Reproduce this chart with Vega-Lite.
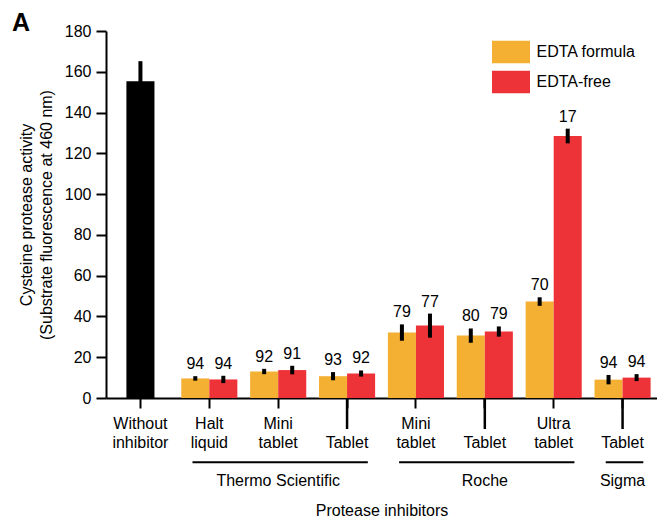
{
  "$schema": "https://vega.github.io/schema/vega-lite/v6.json",
  "width": 551,
  "height": 367,
  "autosize": {"type": "none"},
  "padding": {"left": 106, "top": 31, "right": 0, "bottom": 121},
  "background": "white",
  "title": {
    "text": "A",
    "anchor": "start",
    "frame": "group",
    "dx": -94,
    "dy": 33,
    "offset": 0,
    "baseline": "alphabetic",
    "fontSize": 25,
    "fontWeight": "bold",
    "color": "black"
  },
  "config": {
    "font": "Liberation Sans",
    "view": {"stroke": null},
    "axis": {
      "domainColor": "black",
      "domainWidth": 2,
      "tickColor": "black",
      "tickWidth": 2,
      "tickSize": 10,
      "labelColor": "black",
      "labelFontSize": 16,
      "titleColor": "black",
      "titleFontSize": 16,
      "titleFontWeight": "normal",
      "grid": false
    },
    "legend": {
      "orient": "none",
      "legendX": 386,
      "legendY": 9.5,
      "padding": 0,
      "symbolType": "M-1,-0.605H1V0.605H-1Z",
      "symbolSize": 1444,
      "symbolStrokeWidth": 0,
      "symbolOpacity": 1,
      "labelFontSize": 16,
      "labelColor": "black",
      "labelOffset": 6.5,
      "clipHeight": 23,
      "rowPadding": 7
    }
  },
  "datasets": {
    "bars": [
      {"cat": "None|Without|inhibitor", "series": "Control", "value": 155.4, "lo": 145.6, "hi": 165.2, "pct": null},
      {"cat": "Thermo|Halt|liquid", "series": "EDTA formula", "value": 9.6, "lo": 8.5, "hi": 10.7, "pct": "94"},
      {"cat": "Thermo|Halt|liquid", "series": "EDTA-free", "value": 9.1, "lo": 7.3, "hi": 10.9, "pct": "94"},
      {"cat": "Thermo|Mini|tablet", "series": "EDTA formula", "value": 13.0, "lo": 11.7, "hi": 14.3, "pct": "92"},
      {"cat": "Thermo|Mini|tablet", "series": "EDTA-free", "value": 13.7, "lo": 11.6, "hi": 15.8, "pct": "91"},
      {"cat": "Thermo||Tablet", "series": "EDTA formula", "value": 10.7, "lo": 8.7, "hi": 12.7, "pct": "93"},
      {"cat": "Thermo||Tablet", "series": "EDTA-free", "value": 12.0, "lo": 10.5, "hi": 13.5, "pct": "92"},
      {"cat": "Roche|Mini|tablet", "series": "EDTA formula", "value": 32.1, "lo": 28.1, "hi": 36.1, "pct": "79"},
      {"cat": "Roche|Mini|tablet", "series": "EDTA-free", "value": 35.5, "lo": 29.6, "hi": 41.4, "pct": "77"},
      {"cat": "Roche||Tablet", "series": "EDTA formula", "value": 30.6, "lo": 27.1, "hi": 34.1, "pct": "80"},
      {"cat": "Roche||Tablet", "series": "EDTA-free", "value": 32.6, "lo": 30.1, "hi": 35.1, "pct": "79"},
      {"cat": "Roche|Ultra|tablet", "series": "EDTA formula", "value": 47.3, "lo": 45.2, "hi": 49.4, "pct": "70"},
      {"cat": "Roche|Ultra|tablet", "series": "EDTA-free", "value": 128.5, "lo": 124.9, "hi": 132.1, "pct": "17"},
      {"cat": "Sigma||Tablet", "series": "EDTA formula", "value": 9.0, "lo": 6.7, "hi": 11.3, "pct": "94"},
      {"cat": "Sigma||Tablet", "series": "EDTA-free", "value": 10.0, "lo": 8.3, "hi": 11.7, "pct": "94"}
    ],
    "longTicks": [
      {"cat": "Thermo||Tablet"},
      {"cat": "Roche||Tablet"},
      {"cat": "Sigma||Tablet"}
    ],
    "groups": [
      {"group": "Thermo Scientific", "first": "Thermo|Halt|liquid", "mid": "Thermo|Mini|tablet", "last": "Thermo||Tablet"},
      {"group": "Roche", "first": "Roche|Mini|tablet", "mid": "Roche||Tablet", "last": "Roche|Ultra|tablet"},
      {"group": "Sigma", "first": "Sigma||Tablet", "mid": "Sigma||Tablet", "last": "Sigma||Tablet"}
    ]
  },
  "layer": [
    {
      "data": {"name": "bars"},
      "transform": [{"filter": "datum.series === 'Control'"}],
      "mark": {"type": "bar", "color": "black", "width": {"band": 0.5}},
      "encoding": {
        "x": {
          "field": "cat",
          "type": "nominal",
          "scale": {
            "domain": [
              "None|Without|inhibitor",
              "Thermo|Halt|liquid",
              "Thermo|Mini|tablet",
              "Thermo||Tablet",
              "Roche|Mini|tablet",
              "Roche||Tablet",
              "Roche|Ultra|tablet",
              "Sigma||Tablet"
            ],
            "paddingInner": 0.1855,
            "paddingOuter": 0.0927
          },
          "axis": {
            "title": "Protease inhibitors",
            "labelAngle": 0,
            "labelExpr": "slice(split(datum.label, '|'), 1)",
            "labelLineHeight": 19,
            "labelPadding": 7,
            "titlePadding": 52
          }
        },
        "y": {
          "field": "value",
          "type": "quantitative",
          "scale": {"domain": [0, 180], "nice": false},
          "axis": {
            "values": [0, 20, 40, 60, 80, 100, 120, 140, 160, 180],
            "labelPadding": 5,
            "title": ["Cysteine protease activity", "(Substrate fluorescence at 460 nm)"],
            "titleLineHeight": 20,
            "titlePadding": 10
          }
        }
      }
    },
    {
      "data": {"name": "bars"},
      "transform": [{"filter": "datum.series !== 'Control'"}],
      "mark": {"type": "bar"},
      "encoding": {
        "x": {"field": "cat", "type": "nominal"},
        "xOffset": {"field": "series", "type": "nominal", "scale": {"domain": ["EDTA formula", "EDTA-free"]}},
        "y": {"field": "value", "type": "quantitative"},
        "color": {
          "field": "series",
          "type": "nominal",
          "title": null,
          "scale": {"domain": ["EDTA formula", "EDTA-free"], "range": ["#F4B033", "#EE3338"]}
        }
      }
    },
    {
      "data": {"name": "bars"},
      "transform": [{"filter": "datum.series !== 'Control'"}],
      "mark": {"type": "rule", "color": "black", "strokeWidth": 4},
      "encoding": {
        "x": {"field": "cat", "type": "nominal"},
        "xOffset": {"field": "series", "type": "nominal"},
        "y": {"field": "lo", "type": "quantitative"},
        "y2": {"field": "hi"}
      }
    },
    {
      "data": {"name": "bars"},
      "transform": [{"filter": "datum.series === 'Control'"}],
      "mark": {"type": "rule", "color": "black", "strokeWidth": 4},
      "encoding": {
        "x": {"field": "cat", "type": "nominal"},
        "y": {"field": "lo", "type": "quantitative"},
        "y2": {"field": "hi"}
      }
    },
    {
      "data": {"name": "bars"},
      "transform": [{"filter": "datum.pct !== null"}],
      "mark": {"type": "text", "fontSize": 16, "color": "black", "baseline": "alphabetic", "dy": -7},
      "encoding": {
        "x": {"field": "cat", "type": "nominal"},
        "xOffset": {"field": "series", "type": "nominal"},
        "y": {"field": "hi", "type": "quantitative"},
        "text": {"field": "pct", "type": "nominal"}
      }
    },
    {
      "data": {"name": "longTicks"},
      "mark": {"type": "rule", "color": "black", "strokeWidth": 2.5},
      "encoding": {
        "x": {"field": "cat", "type": "nominal"},
        "y": {"datum": 0},
        "y2": {"datum": -15.2}
      }
    },
    {
      "data": {"name": "groups"},
      "mark": {"type": "rule", "color": "black", "strokeWidth": 2},
      "encoding": {
        "x": {"field": "first", "type": "nominal", "bandPosition": 0.2},
        "x2": {"field": "last", "bandPosition": 0.87},
        "y": {"datum": -31.5}
      }
    },
    {
      "data": {"name": "groups"},
      "mark": {"type": "text", "fontSize": 16, "color": "black", "baseline": "middle"},
      "encoding": {
        "x": {"field": "mid", "type": "nominal"},
        "y": {"datum": -40.5},
        "text": {"field": "group", "type": "nominal"}
      }
    }
  ]
}
